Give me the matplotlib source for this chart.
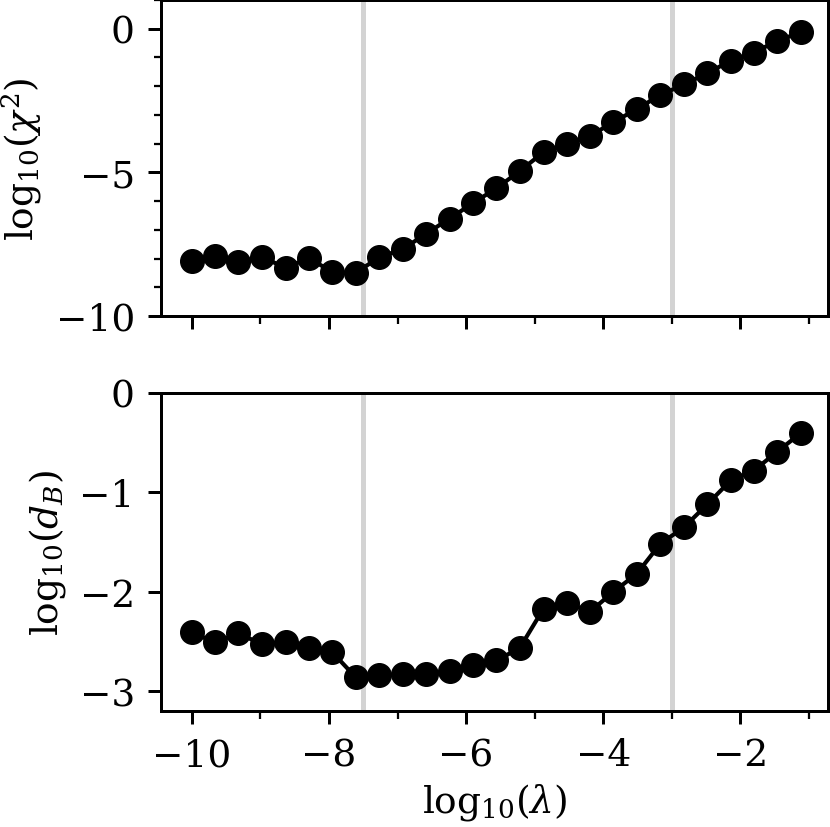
import numpy as np
import matplotlib
matplotlib.use("Agg")
import matplotlib.pyplot as plt
from matplotlib.ticker import MultipleLocator

plt.rcParams['font.family'] = ['DejaVu Serif']
plt.rcParams['mathtext.fontset'] = 'dejavuserif'

log_lambda = [-10.00, -9.66, -9.32, -8.97, -8.63, -8.29, -7.95, -7.61, -7.27,
              -6.92, -6.58, -6.24, -5.90, -5.56, -5.22, -4.87, -4.53, -4.19,
              -3.85, -3.51, -3.17, -2.82, -2.48, -2.14, -1.80, -1.46, -1.11]
log_chi2 = [-8.08, -7.90, -8.11, -7.96, -8.32, -7.98, -8.48, -8.50, -7.96,
            -7.67, -7.13, -6.61, -6.07, -5.56, -4.96, -4.30, -4.01, -3.73,
            -3.25, -2.80, -2.31, -1.94, -1.54, -1.12, -0.83, -0.42, -0.12]
log_dB = [-2.41, -2.51, -2.42, -2.53, -2.51, -2.57, -2.61, -2.86, -2.84,
          -2.83, -2.83, -2.80, -2.74, -2.69, -2.57, -2.17, -2.11, -2.20,
          -2.00, -1.82, -1.52, -1.35, -1.12, -0.88, -0.78, -0.59, -0.40]
vlines = [-7.5, -3.0]

W, H = 830, 828
fig = plt.figure(figsize=(W / 100, H / 100), dpi=100)
left = 161 / W
width = (828 - 161) / W
ax1 = fig.add_axes([left, (H - 317) / H, width, (317 - 1) / H])
ax2 = fig.add_axes([left, (H - 712) / H, width, (712 - 394) / H], sharex=ax1)

s = 2.7
tfs = 27
lfs = 27
for ax, y, lab in [(ax1, log_chi2, r'$\mathrm{log}_{10}(\chi^2)$'),
                   (ax2, log_dB, r'$\mathrm{log}_{10}(d_B)$')]:
    for v in vlines:
        ax.axvline(v, color='#d3d3d3', lw=3.6, zorder=1)
    ax.plot(log_lambda, y, '-o', color='black', lw=3.0, ms=17, zorder=3)
    ax.set_ylabel(lab, fontsize=lfs, labelpad=3 * s)
    for sp in ax.spines.values():
        sp.set_linewidth(0.8 * s)
    ax.tick_params(which='major', length=3.5 * s, width=0.8 * s,
                   labelsize=tfs, pad=3.5 * s)
    ax.tick_params(which='minor', length=2 * s, width=0.6 * s)
    ax.xaxis.set_major_locator(MultipleLocator(2))
    ax.xaxis.set_minor_locator(MultipleLocator(1))

ax1.set_ylim(-10, 1)
ax1.yaxis.set_major_locator(MultipleLocator(5))
ax1.yaxis.set_minor_locator(MultipleLocator(1))
ax1.tick_params(labelbottom=False)

ax2.set_ylim(-3.2, 0)
ax2.yaxis.set_major_locator(MultipleLocator(1))
ax2.set_xlim(-10.45, -0.72)
ax2.set_xlabel(r'$\mathrm{log}_{10}(\lambda)$', fontsize=lfs, labelpad=2 * s)

fig.savefig('out.png', dpi=100)
